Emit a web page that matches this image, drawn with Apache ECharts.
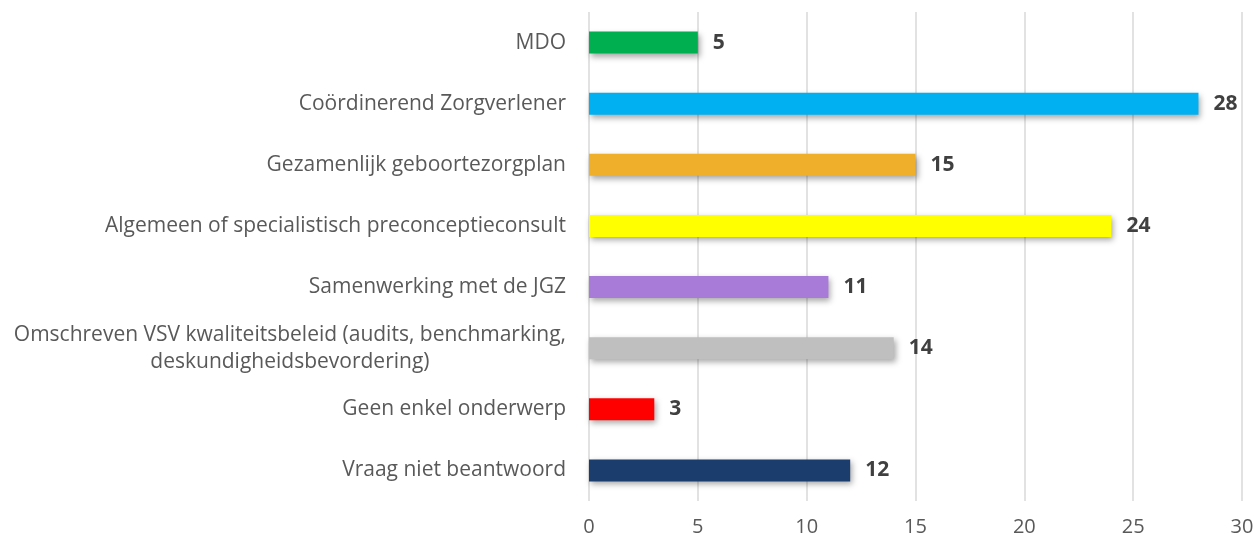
<!DOCTYPE html>
<html>
<head>
<meta charset="utf-8">
<script src="https://cdn.jsdelivr.net/npm/echarts@6/dist/echarts.min.js"></script>
<style>
  html, body { margin: 0; padding: 0; background: #fff; }
  #chart { width: 1260px; height: 542px; }
</style>
</head>
<body>
<div id="chart"></div>
<script>
// categories from top to bottom
const categories = [
  'MDO',
  'Coördinerend Zorgverlener',
  'Gezamenlijk geboortezorgplan',
  'Algemeen of specialistisch preconceptieconsult',
  'Samenwerking met de JGZ',
  'Omschreven VSV kwaliteitsbeleid (audits, benchmarking,\ndeskundigheidsbevordering)',
  'Geen enkel onderwerp',
  'Vraag niet beantwoord'
];
const values = [5, 28, 15, 24, 11, 14, 3, 12];
const barColors = ['#00B050', '#00B0F0', '#F0AF2A', '#FFFF00', '#A97BD9', '#BFBFBF', '#FF0000', '#1A3D6E'];
const xTicks = [0, 5, 10, 15, 20, 25, 30];

const chart = echarts.init(document.getElementById('chart'));
chart.setOption({
  animation: false,
  textStyle: { fontFamily: 'Open Sans' },
  grid: { left: 589, right: 18, top: 12, bottom: 41, containLabel: false },
  xAxis: {
    type: 'value',
    min: xTicks[0],
    max: xTicks[xTicks.length - 1],
    interval: 5,
    axisLine: { show: false },
    axisTick: { show: false },
    axisLabel: { color: '#595959', fontSize: 20, margin: 16 },
    splitLine: { show: true, lineStyle: { color: '#D9D9D9', width: 1.5 } }
  },
  yAxis: {
    type: 'category',
    inverse: true,
    data: categories,
    axisLine: { show: false },
    axisTick: { show: false },
    axisLabel: {
      color: '#595959', fontSize: 21, margin: 23, align: 'right',
      formatter: function (v) { return '{c|' + v.split('\n').join('}\n{c|') + '}'; },
      rich: { c: { align: 'center', fontSize: 21, lineHeight: 27, color: '#595959' } }
    }
  },
  series: [{
    type: 'bar',
    barWidth: 22,
    data: values.map(function (v, i) { return { value: v, itemStyle: { color: barColors[i] } }; }),
    itemStyle: {
      shadowBlur: 6,
      shadowOffsetX: 2,
      shadowOffsetY: 3,
      shadowColor: 'rgba(0,0,0,0.35)'
    },
    label: {
      show: true,
      position: 'right',
      distance: 15,
      color: '#404040',
      fontSize: 21,
      fontWeight: 'bold'
    }
  }]
});
</script>
</body>
</html>
